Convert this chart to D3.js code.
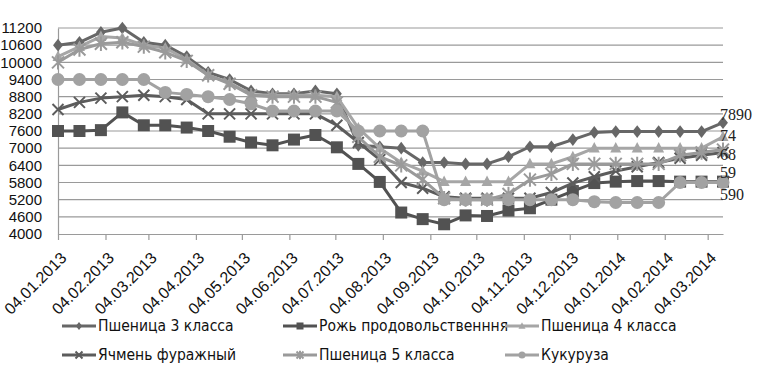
<!DOCTYPE html>
<html><head><meta charset="utf-8">
<script src="https://cdn.jsdelivr.net/npm/d3@7"></script>
<style>body{margin:0;background:#fff;} svg{display:block;}</style>
</head><body>
<script>
// ---- DATA ----
const dates = ["2013-01-04","2013-01-18","2013-02-01","2013-02-15","2013-03-01","2013-03-15","2013-03-29","2013-04-12",
  "2013-04-26","2013-05-10","2013-05-24","2013-06-07","2013-06-21","2013-07-05","2013-07-19","2013-08-02",
  "2013-08-16","2013-08-30","2013-09-13","2013-09-27","2013-10-11","2013-10-25","2013-11-08","2013-11-22",
  "2013-12-06","2013-12-20","2014-01-03","2014-01-17","2014-01-31","2014-02-14","2014-02-28","2014-03-14"];
const tickDates = ["2013-01-04","2013-02-04","2013-03-04","2013-04-04","2013-05-04","2013-06-04","2013-07-04",
  "2013-08-04","2013-09-04","2013-10-04","2013-11-04","2013-12-04","2014-01-04","2014-02-04","2014-03-04"];
const tickLabels = ["04.01.2013","04.02.2013","04.03.2013","04.04.2013","04.05.2013","04.06.2013","04.07.2013",
  "04.08.2013","04.09.2013","04.10.2013","04.11.2013","04.12.2013","04.01.2014","04.02.2014","04.03.2014"];
const yTicks = [4000,4600,5200,5800,6400,7000,7600,8200,8800,9400,10000,10600,11200];
const seriesNames = ["Пшеница 3 класса","Рожь продовольственння","Пшеница 4 класса","Ячмень фуражный","Пшеница 5 класса","Кукуруза"];
const wheat3 = [10600,10700,11050,11200,10700,10600,10200,9650,9400,9000,8900,8900,9000,8900,7100,7050,7000,6500,6500,6450,6450,6700,7050,7050,7300,7550,7580,7580,7580,7580,7580,7890];
const rye    = [7600,7600,7630,8250,7800,7800,7720,7600,7400,7200,7100,7300,7460,7030,6450,5820,4750,4520,4340,4650,4630,4820,4900,5200,5500,5780,5830,5850,5850,5830,5830,5830];
const wheat4 = [10200,10550,10900,10850,10600,10500,10100,9550,9280,8870,8850,8850,8850,8800,7700,7000,6500,6200,5830,5830,5830,5830,6450,6450,6700,7000,7000,7000,7000,7000,7000,7400];
const barley = [8350,8600,8750,8800,8850,8800,8700,8200,8200,8200,8200,8200,8200,7800,7200,6600,5800,5600,5300,5250,5250,5250,5250,5450,5780,6000,6200,6350,6500,6650,6750,6850];
const wheat5 = [10000,10450,10650,10700,10550,10350,10050,9550,9250,8850,8800,8800,8800,8600,7400,6700,6400,5900,5250,5200,5200,5400,5900,6100,6450,6450,6450,6450,6450,6750,6850,6950];
const corn   = [9400,9400,9400,9400,9400,8950,8880,8800,8700,8550,8300,8300,8300,8300,7600,7600,7600,7600,5200,5200,5200,5200,5200,5200,5200,5130,5100,5100,5100,5800,5800,5800];
const endLabels = ["7890","74","68","59","590"];
const endLabelSeries = [0,2,4,1,5];

// ---- STYLE ----
const W = 773, H = 367;
const M = {left:58, right:723, top:28, bottom:234};
const colors = ["#676767","#525252","#a6a6a6","#5c5c5c","#9a9a9a","#a2a2a2"];
const markers = ["diamond","square","triangle","cross","star","circle"];
const labelDy = [-3, 4, 10, -4, 17];
const values = [wheat3, rye, wheat4, barley, wheat5, corn];

const parse = d3.timeParse("%Y-%m-%d");
const svg = d3.select("body").append("svg").attr("width", W).attr("height", H)
  .style("font-family", "'DejaVu Sans Condensed','DejaVu Sans',sans-serif");

const x = d3.scaleTime().domain([parse(dates[0]), parse(dates[dates.length-1])]).range([M.left, M.right]);
const y = d3.scaleLinear().domain([4000, 11200]).range([M.bottom, M.top]);

// grid
svg.append("g").selectAll("line").data(yTicks.slice(1)).join("line")
  .attr("x1", M.left).attr("x2", M.right).attr("y1", d => y(d)).attr("y2", d => y(d))
  .attr("stroke", "#9a9a9a").attr("stroke-width", 1.2);

// y axis
const ya = svg.append("g").attr("transform", `translate(${M.left},0)`)
  .call(d3.axisLeft(y).tickValues(yTicks).tickSize(0).tickPadding(16).tickFormat(d => d));
ya.select(".domain").attr("stroke", "#9a9a9a").attr("stroke-width", 1.2);
ya.selectAll("text").attr("font-size", 15).attr("fill", "#111").attr("font-family", null);

// x axis
const xa = svg.append("g").attr("transform", `translate(0,${M.bottom})`)
  .call(d3.axisBottom(x).tickValues(tickDates.map(parse)).tickSize(6).tickSizeOuter(0)
    .tickFormat((d, i) => tickLabels[i]));
xa.select(".domain").attr("stroke", "#9a9a9a").attr("stroke-width", 1.2);
xa.selectAll(".tick line").attr("stroke", "#9a9a9a").attr("stroke-width", 1.2);
xa.selectAll("text").attr("font-size", 16).attr("fill", "#111").attr("font-family", null)
  .attr("y", 0).attr("dy", 0).attr("text-anchor", "end")
  .attr("transform", "translate(9,25) rotate(-45)");

// marker drawing
function drawMarker(g, type, color, s) {
  const h = s / 2;
  if (type === "diamond") g.append("path").attr("d", `M0,${-h*1.15}L${h*0.9},0L0,${h*1.15}L${-h*0.9},0Z`).attr("fill", color);
  else if (type === "square") g.append("rect").attr("x", -h).attr("y", -h).attr("width", s).attr("height", s).attr("fill", color);
  else if (type === "triangle") g.append("path").attr("d", `M0,${-h*1.1}L${h},${h*0.8}L${-h},${h*0.8}Z`).attr("fill", color);
  else if (type === "circle") g.append("circle").attr("r", h).attr("fill", color);
  else if (type === "cross") g.append("path").attr("d", `M${-h},${-h}L${h},${h}M${-h},${h}L${h},${-h}`).attr("stroke", color).attr("stroke-width", 2);
  else if (type === "star") g.append("path").attr("d", `M${-h},${-h}L${h},${h}M${-h},${h}L${h},${-h}M0,${-h*1.2}L0,${h*1.2}`).attr("stroke", color).attr("stroke-width", 2);
}
const markerSize = [11, 12, 11, 11, 12, 13];

const line = d3.line().x((d, i) => x(parse(dates[i]))).y(d => y(d));
values.forEach((vals, si) => {
  const g = svg.append("g");
  g.append("path").datum(vals).attr("d", line).attr("fill", "none")
    .attr("stroke", colors[si]).attr("stroke-width", 3).attr("stroke-linejoin", "round");
  vals.forEach((v, i) => {
    const mg = g.append("g").attr("transform", `translate(${x(parse(dates[i]))},${y(v)})`);
    drawMarker(mg, markers[si], colors[si], markerSize[si]);
  });
});

// end labels
endLabels.forEach((t, i) => {
  const vals = values[endLabelSeries[i]];
  svg.append("text").attr("x", x(parse(dates[dates.length-1])) - 3)
    .attr("y", y(vals[vals.length-1]) + labelDy[i])
    .attr("font-family", "'Liberation Serif','Times New Roman',serif").attr("font-size", 16).attr("fill", "#222")
    .text(t);
});

// legend
const legX = [62, 283, 505], legY = [326, 355];
seriesNames.forEach((name, i) => {
  const col = i % 3, row = Math.floor(i / 3);
  const g = svg.append("g").attr("transform", `translate(${legX[col]},${legY[row]})`);
  g.append("line").attr("x1", 0).attr("x2", 34).attr("y1", 0).attr("y2", 0).attr("stroke", colors[i]).attr("stroke-width", 3);
  const mg = g.append("g").attr("transform", "translate(17,0)");
  drawMarker(mg, markers[i], colors[i], 7);
  g.append("text").attr("x", 36).attr("y", 0).attr("dy", "0.35em").attr("font-size", 15.5).attr("fill", "#111").text(name);
});
</script>
</body></html>
